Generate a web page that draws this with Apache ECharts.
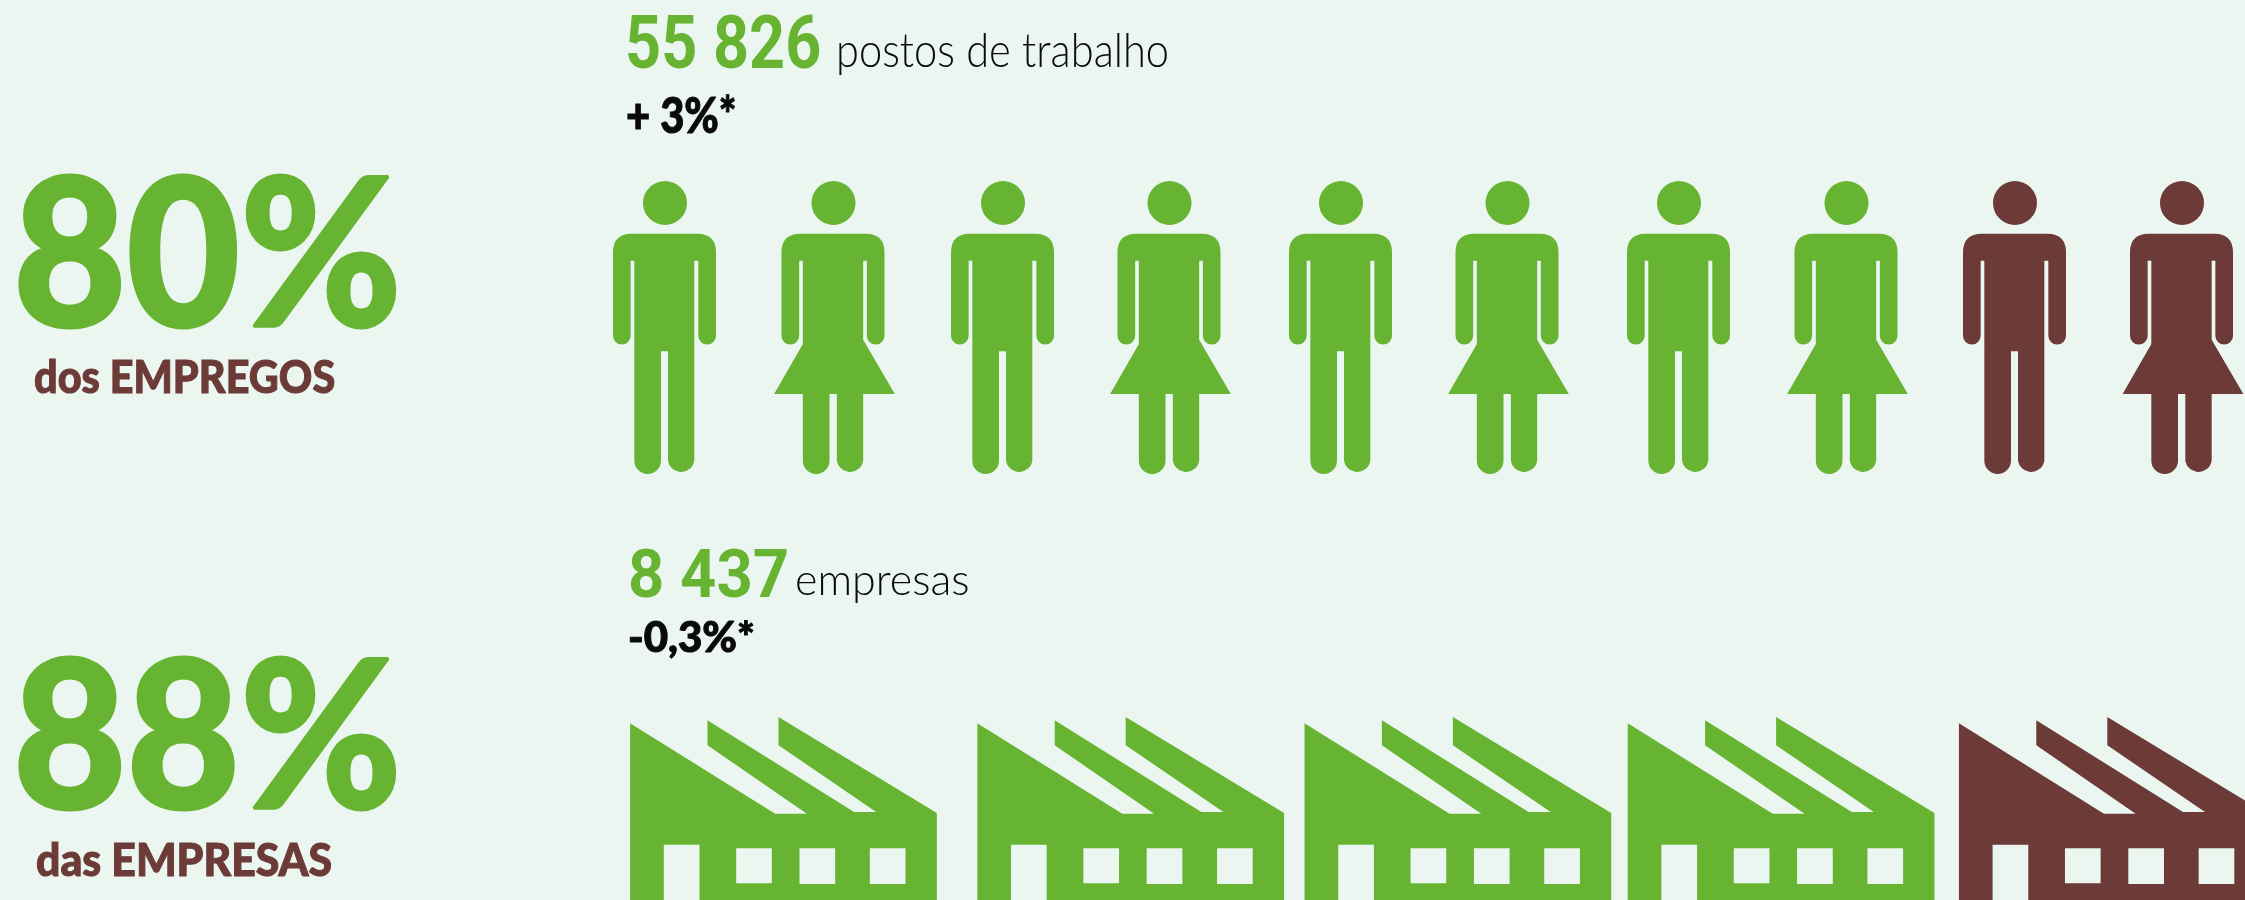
<!DOCTYPE html>
<html lang="pt">
<head>
<meta charset="utf-8">
<title>80% dos empregos, 88% das empresas</title>
<style>html,body{margin:0;padding:0;background:#ECF6F1}#chart{width:2245px;height:900px}</style>
<script src="https://cdn.jsdelivr.net/npm/echarts@6/dist/echarts.min.js"></script>
</head>
<body>
<div id="chart"></div>
<script>
// Data
const peopleIcons = ['homem','mulher','homem','mulher','homem','mulher','homem','mulher','homem','mulher'];
const peopleHighlighted = 8;   // 80% of the jobs: 8 of 10 figures
const companyIcons = ['e1','e2','e3','e4','e5'];
const companiesHighlighted = 4; // 88% of the companies, drawn as 4 of 5 factories
const jobsShare = '80%';
const jobsLabel = 'dos EMPREGOS';
const companiesShare = '88%';
const companiesLabel = 'das EMPRESAS';
const jobsCount = '55 826';
const jobsCountLabel = 'postos de trabalho';
const jobsChange = '+ 3%*';
const companiesCount = '8 437';
const companiesCountLabel = 'empresas';
const companiesChange = '-0,3%*';

// Style
const GREEN = '#67B432', BROWN = '#6C3A37', BLACK = '#0A0A0A', BG = '#ECF6F1';
const MAN = 'path://M225 64a66 66 0 1 1 0 132a66 66 0 1 1 0-132ZM125 222H322Q378 222 378 278V528A26.5 26.5 0 0 1 325 528V303H313V903A40 40 0 0 1 234 903V575H213V903A40 40 0 0 1 133 903V303H122V528A26.5 26.5 0 0 1 69 528V278Q69 222 125 222Z';
const WOMAN = 'path://M731 64a66 66 0 1 1 0 132a66 66 0 1 1 0-132ZM631 222H828Q884 222 884 278V528A26.5 26.5 0 0 1 831 528V303H820V540L915 703H820V903A40 40 0 0 1 741 903V703H719V903A40 40 0 0 1 639 903V703H553L639 553V303H628V528A26.5 26.5 0 0 1 575 528V278Q575 222 631 222Z';
const FACTORY = 'path://M60 69L495 340H590L292 135V60L732 335H798L505 135V50L980 338V660H268V433H161V660H60ZM378 444V549H485V444ZM568 444V551H675V444ZM779 444V551H886V444Z';
const PERSON_NUDGE = [0, 1, 0, -1, 0, -1, 0, 0, -2, -2.5];
const FACTORY_NUDGE = [0, 15, 10, 1, 0];

function txt(font, x, y, text, size, weight, color, sx, thicken) {
  return {
    type: 'text', x: x, y: y + size * 0.12, scaleX: sx || 1, silent: true,
    style: { x: 0, y: 0, text: text, fill: color, fontFamily: font, fontSize: size, fontWeight: weight,
             align: 'left', verticalAlign: 'middle',
             stroke: thicken ? color : null, lineWidth: thicken || 0 }
  };
}

const hiddenCat = (grid, cats) => ({ type: 'category', gridIndex: grid, data: cats, show: false, boundaryGap: true });
const hiddenVal = (grid) => ({ type: 'value', gridIndex: grid, min: 0, max: 2, show: false });

const option = {
  animation: false,
  backgroundColor: BG,
  grid: [
    { left: 580, top: 181, width: 1690, height: 293, outerBoundsMode: 'none', containLabel: false },
    { left: 617.4, top: 717, width: 1661, height: 203.3, outerBoundsMode: 'none', containLabel: false }
  ],
  xAxis: [hiddenCat(0, peopleIcons), hiddenCat(1, companyIcons)],
  yAxis: [hiddenVal(0), hiddenVal(1)],
  series: [
    {
      type: 'scatter', name: 'Postos de trabalho', xAxisIndex: 0, yAxisIndex: 0, clip: false, silent: true,
      data: peopleIcons.map((kind, i) => ({
        value: [i, 1],
        symbol: kind === 'homem' ? MAN : WOMAN,
        symbolSize: kind === 'homem' ? [103, 293] : [120.7, 293],
        symbolOffset: [PERSON_NUDGE[i], 0],
        symbolKeepAspect: false,
        itemStyle: { color: i < peopleHighlighted ? GREEN : BROWN, opacity: 1 }
      }))
    },
    {
      type: 'scatter', name: 'Empresas', xAxisIndex: 1, yAxisIndex: 1, clip: false, silent: true,
      data: companyIcons.map((kind, i) => ({
        value: [i, 1],
        symbol: FACTORY,
        symbolSize: [306.7, 203.3],
        symbolOffset: [FACTORY_NUDGE[i], 0],
        symbolKeepAspect: false,
        itemStyle: { color: i < companiesHighlighted ? GREEN : BROWN, opacity: 1 }
      }))
    }
  ],
  graphic: { elements: [
    txt('Lato', 13, 235, jobsShare, 206, 900, GREEN, 0.95, 3),
    txt('Lato', 13, 717, companiesShare, 206, 900, GREEN, 0.95, 3),
    txt('Lato', 34, 373, jobsLabel, 45, 900, BROWN, 0.92, 1),
    txt('Lato', 36, 856, companiesLabel, 45, 900, BROWN, 0.95, 1),
    txt('Roboto', 625, 40, jobsCount, 75, 700, GREEN, 0.84),
    txt('Lato', 836, 46, jobsCountLabel, 47, 300, BLACK, 0.885),
    txt('Lato', 626, 111, jobsChange, 50, 900, BLACK, 0.835, 1),
    txt('Roboto', 628, 573, companiesCount, 66, 700, GREEN, 0.96),
    txt('Lato', 795, 576, companiesCountLabel, 43, 300, BLACK, 1.0),
    txt('Lato', 628, 633, companiesChange, 42, 900, BLACK, 1.0, 1)
  ] }
};

echarts.init(document.getElementById('chart'), null, { renderer: 'canvas' }).setOption(option);
</script>
</body>
</html>
